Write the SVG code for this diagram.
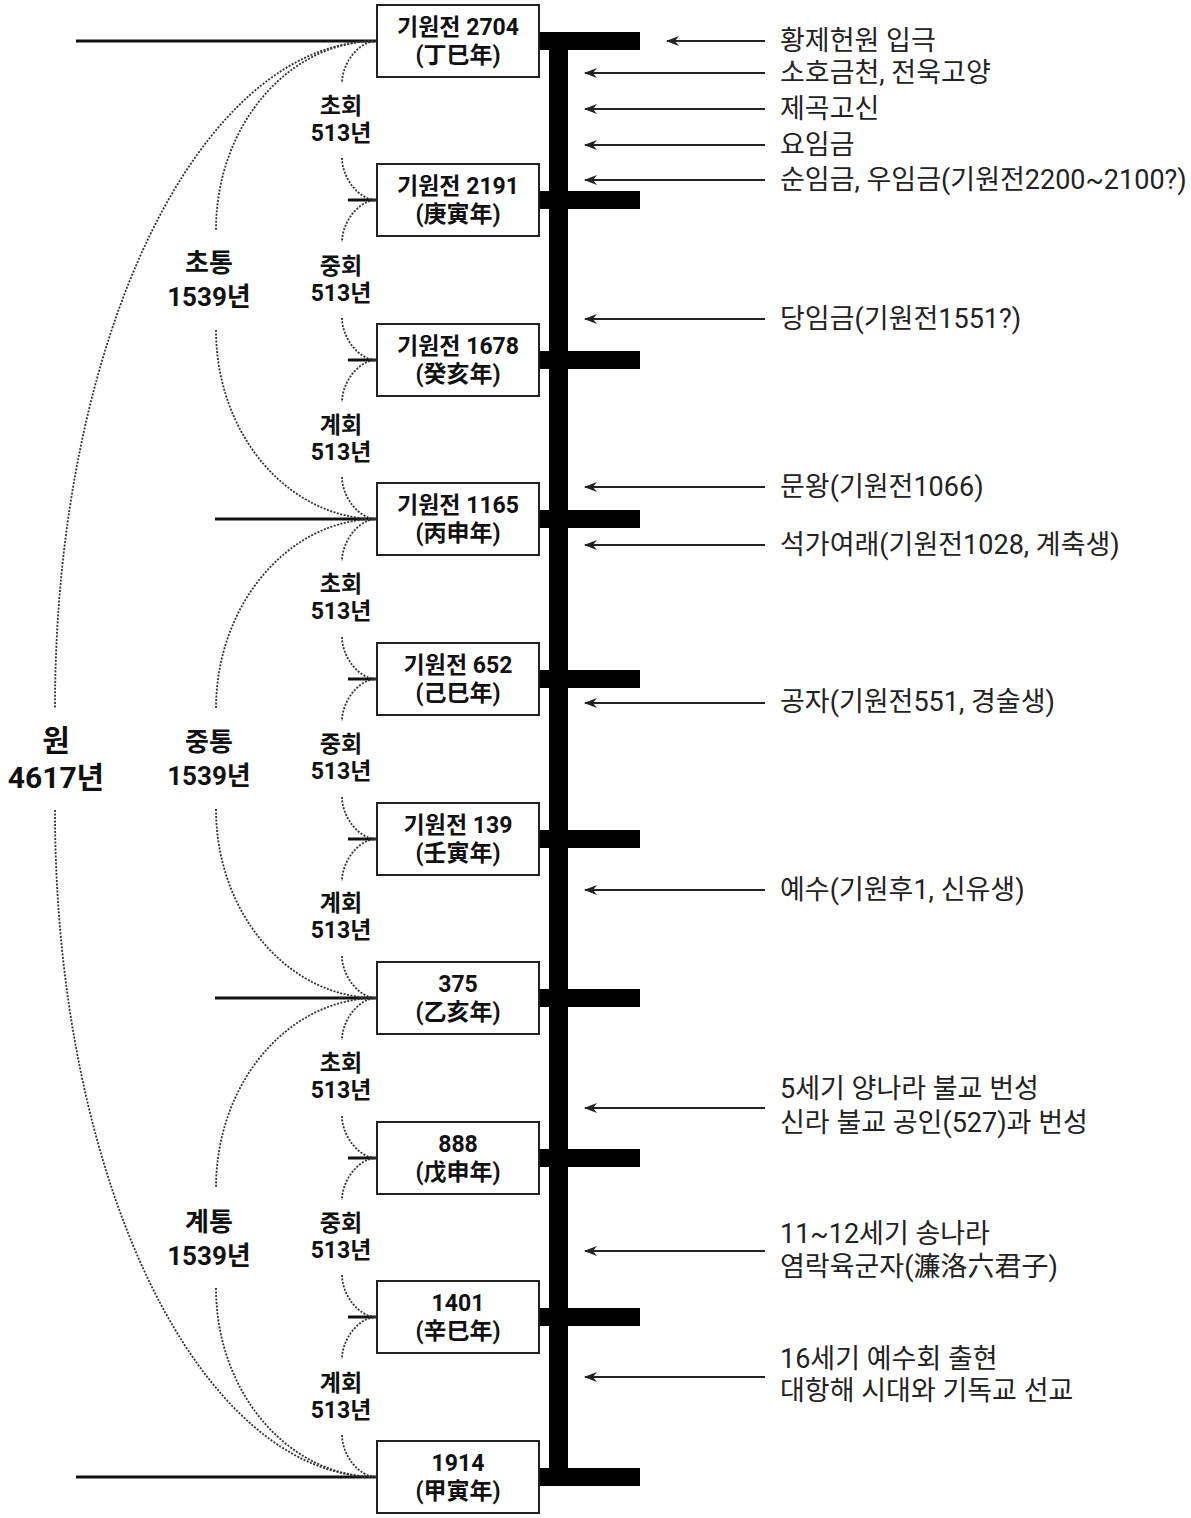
<svg xmlns="http://www.w3.org/2000/svg" width="1191" height="1518" viewBox="0 0 1191 1518">
<style>
text{font-family:Roboto,"Noto Sans CJK KR","Liberation Sans",sans-serif;fill:#111}
.bx rect{fill:#fff;stroke:#222;stroke-width:2}
.bx text{font-size:23px;font-weight:700;text-anchor:middle}
.lbl{font-size:23px;font-weight:700;text-anchor:middle}
.tong{font-size:26px;font-weight:700;text-anchor:middle}
.won{font-size:30px;font-weight:700;text-anchor:middle}
.ev{font-size:27px;font-weight:400;fill:#222}
.dot{fill:none;stroke:#333;stroke-width:1.8;stroke-dasharray:2 1.5}
.ln{stroke:#111;stroke-width:3}
.bar{fill:#000}
.arr{stroke:#222;stroke-width:2;fill:none}
</style>
<defs>
<marker id="ah" viewBox="0 0 14 10" refX="13" refY="5" markerWidth="14" markerHeight="10" markerUnits="userSpaceOnUse" orient="auto">
<path d="M14,5 L1,0 L5,5 L1,10 Z" fill="#222"/>
</marker>
</defs>

<g id="connectors">
<line class="ln" x1="76" y1="41" x2="377" y2="41"/>
<line class="ln" x1="215" y1="519" x2="377" y2="519"/>
<line class="ln" x1="215" y1="998" x2="377" y2="998"/>
<line class="ln" x1="76" y1="1477" x2="377" y2="1477"/>
<line class="ln" x1="348" y1="200" x2="377" y2="200"/>
<line class="ln" x1="348" y1="360" x2="377" y2="360"/>
<line class="ln" x1="348" y1="679" x2="377" y2="679"/>
<line class="ln" x1="348" y1="839" x2="377" y2="839"/>
<line class="ln" x1="348" y1="1158" x2="377" y2="1158"/>
<line class="ln" x1="348" y1="1317" x2="377" y2="1317"/>
<path class="dot" d="M377,41 C358,41 342,64 342,83 M342,158 C342,177 358,200 377,200"/>
<path class="dot" d="M377,200 C358,200 342,223 342,242 M342,318 C342,337 358,360 377,360"/>
<path class="dot" d="M377,360 C358,360 342,383 342,402 M342,477 C342,496 358,519 377,519"/>
<path class="dot" d="M377,519 C358,519 342,542 342,561 M342,637 C342,656 358,679 377,679"/>
<path class="dot" d="M377,679 C358,679 342,702 342,721 M342,797 C342,816 358,839 377,839"/>
<path class="dot" d="M377,839 C358,839 342,862 342,881 M342,956 C342,975 358,998 377,998"/>
<path class="dot" d="M377,998 C358,998 342,1021 342,1040 M342,1116 C342,1135 358,1158 377,1158"/>
<path class="dot" d="M377,1158 C358,1158 342,1181 342,1200 M342,1275 C342,1294 358,1317 377,1317"/>
<path class="dot" d="M377,1317 C358,1317 342,1340 342,1359 M342,1435 C342,1454 358,1477 377,1477"/>
<path class="dot" d="M377,41 C288,41 216,126 216,230 M216,330 C216,434 288,519 377,519"/>
<path class="dot" d="M377,519 C288,519 216,605 216,709 M216,809 C216,913 288,998 377,998"/>
<path class="dot" d="M377,998 C288,998 216,1083 216,1188 M216,1288 C216,1392 288,1477 377,1477"/>
<path class="dot" d="M377,41 C199,41 55,340 55,708 M55,810 C55,1178 199,1477 377,1477"/>
<line class="arr" x1="765" y1="41" x2="667" y2="41" marker-end="url(#ah)"/>
<line class="arr" x1="765" y1="73" x2="585" y2="73" marker-end="url(#ah)"/>
<line class="arr" x1="765" y1="109" x2="585" y2="109" marker-end="url(#ah)"/>
<line class="arr" x1="765" y1="145" x2="585" y2="145" marker-end="url(#ah)"/>
<line class="arr" x1="765" y1="180" x2="585" y2="180" marker-end="url(#ah)"/>
<line class="arr" x1="765" y1="319" x2="585" y2="319" marker-end="url(#ah)"/>
<line class="arr" x1="765" y1="487" x2="585" y2="487" marker-end="url(#ah)"/>
<line class="arr" x1="765" y1="545" x2="585" y2="545" marker-end="url(#ah)"/>
<line class="arr" x1="765" y1="703" x2="585" y2="703" marker-end="url(#ah)"/>
<line class="arr" x1="765" y1="890" x2="585" y2="890" marker-end="url(#ah)"/>
<line class="arr" x1="765" y1="1108" x2="585" y2="1108" marker-end="url(#ah)"/>
<line class="arr" x1="765" y1="1251" x2="585" y2="1251" marker-end="url(#ah)"/>
<line class="arr" x1="765" y1="1377" x2="585" y2="1377" marker-end="url(#ah)"/>
</g>

<g id="timeline">
<rect class="bar" x="549" y="41" width="19" height="1436"/>
<rect class="bar" x="539" y="32" width="101" height="18"/>
<rect class="bar" x="539" y="191" width="101" height="18"/>
<rect class="bar" x="539" y="351" width="101" height="18"/>
<rect class="bar" x="539" y="510" width="101" height="18"/>
<rect class="bar" x="539" y="670" width="101" height="18"/>
<rect class="bar" x="539" y="830" width="101" height="18"/>
<rect class="bar" x="539" y="989" width="101" height="18"/>
<rect class="bar" x="539" y="1149" width="101" height="18"/>
<rect class="bar" x="539" y="1308" width="101" height="18"/>
<rect class="bar" x="539" y="1468" width="101" height="18"/>
</g>

<g id="n1" class="bx"><rect x="377" y="5" width="162" height="72"/><text x="458" y="35">기원전 2704</text><text x="458" y="63">(丁巳年)</text></g>
<g id="n2" class="bx"><rect x="377" y="164" width="162" height="72"/><text x="458" y="194">기원전 2191</text><text x="458" y="222">(庚寅年)</text></g>
<g id="n3" class="bx"><rect x="377" y="324" width="162" height="72"/><text x="458" y="354">기원전 1678</text><text x="458" y="382">(癸亥年)</text></g>
<g id="n4" class="bx"><rect x="377" y="483" width="162" height="72"/><text x="458" y="513">기원전 1165</text><text x="458" y="541">(丙申年)</text></g>
<g id="n5" class="bx"><rect x="377" y="643" width="162" height="72"/><text x="458" y="673">기원전 652</text><text x="458" y="701">(己巳年)</text></g>
<g id="n6" class="bx"><rect x="377" y="803" width="162" height="72"/><text x="458" y="833">기원전 139</text><text x="458" y="861">(壬寅年)</text></g>
<g id="n7" class="bx"><rect x="377" y="962" width="162" height="72"/><text x="458" y="992">375</text><text x="458" y="1020">(乙亥年)</text></g>
<g id="n8" class="bx"><rect x="377" y="1122" width="162" height="72"/><text x="458" y="1152">888</text><text x="458" y="1180">(戊申年)</text></g>
<g id="n9" class="bx"><rect x="377" y="1281" width="162" height="72"/><text x="458" y="1311">1401</text><text x="458" y="1339">(辛巳年)</text></g>
<g id="n10" class="bx"><rect x="377" y="1441" width="162" height="72"/><text x="458" y="1471">1914</text><text x="458" y="1499">(甲寅年)</text></g>

<g id="hoe-labels">
<text class="lbl" x="341" y="114">초회</text><text class="lbl" x="341" y="141">513년</text>
<text class="lbl" x="341" y="274">중회</text><text class="lbl" x="341" y="301">513년</text>
<text class="lbl" x="341" y="433">계회</text><text class="lbl" x="341" y="460">513년</text>
<text class="lbl" x="341" y="592">초회</text><text class="lbl" x="341" y="619">513년</text>
<text class="lbl" x="341" y="752">중회</text><text class="lbl" x="341" y="779">513년</text>
<text class="lbl" x="341" y="911">계회</text><text class="lbl" x="341" y="938">513년</text>
<text class="lbl" x="341" y="1071">초회</text><text class="lbl" x="341" y="1098">513년</text>
<text class="lbl" x="341" y="1231">중회</text><text class="lbl" x="341" y="1258">513년</text>
<text class="lbl" x="341" y="1391">계회</text><text class="lbl" x="341" y="1418">513년</text>
</g>

<g id="tong-labels">
<text class="tong" x="209" y="272">초통</text><text class="tong" x="209" y="306">1539년</text>
<text class="tong" x="209" y="751">중통</text><text class="tong" x="209" y="785">1539년</text>
<text class="tong" x="209" y="1231">계통</text><text class="tong" x="209" y="1265">1539년</text>
</g>

<g id="won-label">
<text class="won" x="56" y="751">원</text><text class="won" x="56" y="788">4617년</text>
</g>

<g id="events">
<text class="ev" x="780" y="50">황제헌원 입극</text>
<text class="ev" x="780" y="82">소호금천, 전욱고양</text>
<text class="ev" x="780" y="118">제곡고신</text>
<text class="ev" x="780" y="154">요임금</text>
<text class="ev" x="780" y="189">순임금, 우임금(기원전2200~2100?)</text>
<text class="ev" x="780" y="328">당임금(기원전1551?)</text>
<text class="ev" x="780" y="496">문왕(기원전1066)</text>
<text class="ev" x="780" y="554">석가여래(기원전1028, 계축생)</text>
<text class="ev" x="780" y="711">공자(기원전551, 경술생)</text>
<text class="ev" x="780" y="899">예수(기원후1, 신유생)</text>
<text class="ev" x="780" y="1098">5세기 양나라 불교 번성</text>
<text class="ev" x="780" y="1132">신라 불교 공인(527)과 번성</text>
<text class="ev" x="780" y="1243">11~12세기 송나라</text>
<text class="ev" x="780" y="1276">염락육군자(濂洛六君子)</text>
<text class="ev" x="780" y="1368">16세기 예수회 출현</text>
<text class="ev" x="780" y="1400">대항해 시대와 기독교 선교</text>
</g>
</svg>
